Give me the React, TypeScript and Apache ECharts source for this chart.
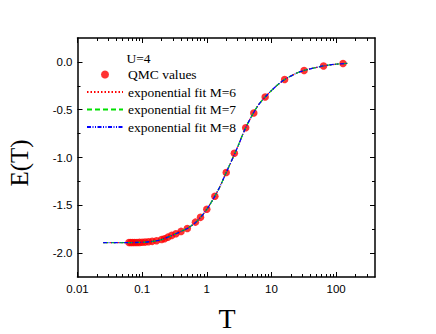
import React, { useEffect, useRef } from "react";
import * as echarts from "echarts";

const qmcT = [0.0625, 0.0667, 0.0714, 0.0769, 0.0833, 0.0909, 0.1, 0.111, 0.125, 0.143, 0.167, 0.2, 0.222, 0.25, 0.286, 0.333, 0.4, 0.5, 0.667, 0.8, 1.0, 1.333, 2, 2.667, 4, 5.333, 8, 16, 32, 64, 128];
const qmcE = [-1.890, -1.890, -1.890, -1.890, -1.889, -1.888, -1.887, -1.885, -1.882, -1.877, -1.870, -1.858, -1.850, -1.833, -1.815, -1.797, -1.773, -1.742, -1.676, -1.626, -1.542, -1.406, -1.157, -0.955, -0.688, -0.535, -0.367, -0.185, -0.090, -0.042, -0.017];

const fitT = [0.025, 0.05, 0.08, 0.1, 0.15, 0.2, 0.3, 0.4, 0.5, 0.7, 1, 1.5, 2, 3, 4, 6, 8, 12, 16, 25, 32, 50, 64, 100, 150];
const fitM6 = [-1.890, -1.890, -1.889, -1.887, -1.876, -1.858, -1.810, -1.773, -1.742, -1.668, -1.542, -1.340, -1.157, -0.890, -0.688, -0.470, -0.367, -0.250, -0.185, -0.115, -0.090, -0.057, -0.042, -0.024, -0.015];
const fitM7 = [-1.890, -1.890, -1.889, -1.887, -1.876, -1.858, -1.810, -1.773, -1.742, -1.668, -1.542, -1.341, -1.157, -0.890, -0.688, -0.470, -0.367, -0.250, -0.185, -0.115, -0.090, -0.057, -0.042, -0.024, -0.015];
const fitM8 = [-1.890, -1.890, -1.889, -1.887, -1.876, -1.858, -1.811, -1.773, -1.742, -1.668, -1.542, -1.341, -1.157, -0.891, -0.688, -0.470, -0.367, -0.250, -0.185, -0.115, -0.090, -0.057, -0.042, -0.024, -0.015];

const xMajor = [0.01, 0.1, 1, 10, 100];
const xMinor = [0.02, 0.03, 0.04, 0.05, 0.06, 0.07, 0.08, 0.09, 0.2, 0.3, 0.4, 0.5, 0.6, 0.7, 0.8, 0.9, 2, 3, 4, 5, 6, 7, 8, 9, 20, 30, 40, 50, 60, 70, 80, 90, 200, 300];
const yMajor = [-2, -1.5, -1, -0.5, 0];
const yMinor = [-1.75, -1.25, -0.75, -0.25];

const names = ["QMC values", "exponential fit M=6", "exponential fit M=7", "exponential fit M=8"];

export default function App() {
  const ref = useRef<HTMLDivElement>(null);
  useEffect(() => {
    if (!ref.current) return;
    const chart = echarts.init(ref.current, null, { renderer: "svg" });
    const axLine = { show: true, onZero: false, lineStyle: { color: "#000", width: 1.5 } };
    const mkX = (pos: string, ticks: number[], len: number, labels: boolean, line: boolean) => ({
      type: "log",
      logBase: 10,
      min: 0.01,
      max: 400,
      position: pos,
      axisLine: line ? axLine : { show: false, onZero: false },
      axisTick: { show: true, inside: true, length: len, customValues: ticks, lineStyle: { color: "#000", width: 1 } },
      axisLabel: labels
        ? {
            show: true,
            customValues: ticks,
            fontFamily: "Liberation Sans",
            fontSize: 11.5,
            color: "#000",
            margin: 6,
            formatter: (v: number) => (v >= 1 ? String(Math.round(v)) : String(+v.toPrecision(3))),
          }
        : { show: false },
      splitLine: { show: false },
    });
    const mkY = (pos: string, ticks: number[], len: number, labels: boolean, line: boolean) => ({
      type: "value",
      min: -2.25,
      max: 0.25,
      position: pos,
      axisLine: line ? axLine : { show: false, onZero: false },
      axisTick: { show: true, inside: true, length: len, customValues: ticks, lineStyle: { color: "#000", width: 1 } },
      axisLabel: labels
        ? {
            show: true,
            customValues: ticks,
            fontFamily: "Liberation Sans",
            fontSize: 11.5,
            color: "#000",
            margin: 5,
            formatter: (v: number) => v.toFixed(1),
          }
        : { show: false },
      splitLine: { show: false },
    });
    const fitSeries = (name: string, data: number[], color: string, type: any, z: number) => ({
      name,
      type: "line",
      xAxisIndex: 0,
      yAxisIndex: 0,
      data: fitT.map((t, i) => [t, data[i]]),
      smooth: 0.3,
      symbol: "none",
      lineStyle: { color, width: 1.3, type },
      itemStyle: { color },
      z,
    });
    chart.setOption({
      animation: false,
      grid: { left: 77.5, right: 61, top: 38, bottom: 57 },
      xAxis: [
        mkX("bottom", xMajor, 5, true, true),
        mkX("bottom", xMinor, 3, false, false),
        mkX("top", xMajor, 5, false, true),
        mkX("top", xMinor, 3, false, false),
      ],
      yAxis: [
        mkY("left", yMajor, 5, true, true),
        mkY("left", yMinor, 3, false, false),
        mkY("right", yMajor, 5, false, true),
        mkY("right", yMinor, 3, false, false),
      ],
      legend: {
        data: [
          { name: names[0], icon: "circle" },
          { name: names[1], itemStyle: { opacity: 0 } },
          { name: names[2], itemStyle: { opacity: 0 } },
          { name: names[3], itemStyle: { opacity: 0 } },
        ],
        orient: "vertical",
        left: 86,
        top: 67.5,
        padding: 0,
        itemWidth: 36,
        itemHeight: 8,
        itemGap: 3.5,
        textStyle: { fontFamily: "Liberation Serif", fontSize: 13.5, color: "#000", lineHeight: 13 },
      },
      graphic: [
        {
          type: "text",
          left: 126.5,
          top: 51,
          style: { text: "U=4", font: "13.5px 'Liberation Serif'", fill: "#000" },
        },
        {
          type: "text",
          x: 19,
          y: 163,
          rotation: Math.PI / 2,
          style: { text: "E(T)", font: "25px 'Liberation Serif'", fill: "#000", textAlign: "center", textVerticalAlign: "middle" },
        },
        {
          type: "text",
          x: 227,
          y: 318,
          style: { text: "T", font: "28px 'Liberation Serif'", fill: "#000", textAlign: "center", textVerticalAlign: "middle" },
        },
      ],
      series: [
        {
          name: names[0],
          type: "scatter",
          xAxisIndex: 0,
          yAxisIndex: 0,
          data: qmcT.map((t, i) => [t, qmcE[i]]),
          symbol: "circle",
          symbolSize: 7.5,
          itemStyle: { color: "#ff0000" },
          z: 2,
        },
        fitSeries(names[1], fitM6, "#ff0000", [1.5, 2], 3),
        fitSeries(names[2], fitM7, "#00e000", [5, 3], 4),
        fitSeries(names[3], fitM8, "#0000ff", [4, 1.5, 1, 1.5, 1, 1.5], 5),
      ],
    });
    return () => chart.dispose();
  }, []);
  return <div ref={ref} style={{ width: 436, height: 334, position: "absolute", left: 0, top: 0 }} />;
}
